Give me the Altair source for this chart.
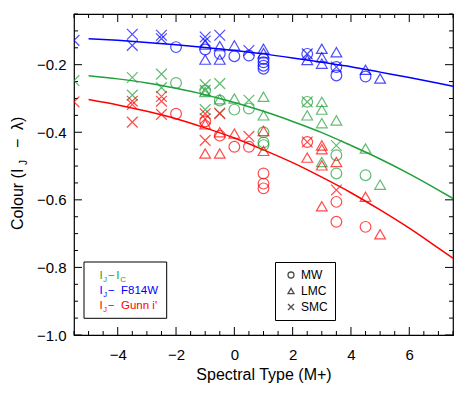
import altair as alt
import pandas as pd
import numpy as np

FONT = "Liberation Sans"
GREEN = "#21a03a"
BLUE = "#0000ff"
RED = "#ff0000"

# ---------------- data ----------------
# I_J - F814W (blue)
f814_spt = [-5.5, -3.5, -3.5, -2.5, -2.5, -2.0,
            -1.0, -1.0, -1.0, -1.0, -1.0,
            -0.5, -0.5, -0.5, -0.5, 0.0, 0.0, 0.5, 0.5,
            1.0, 1.0, 1.0, 1.0, 1.0, 1.0,
            2.5, 2.5, 2.5, 3.0, 3.0, 3.0,
            3.5, 3.5, 3.5, 3.5, 4.5, 4.5, 5.0]
f814_col = [-0.128, -0.110, -0.143, -0.113, -0.123, -0.148,
            -0.118, -0.130, -0.140, -0.155, -0.185,
            -0.113, -0.145, -0.168, -0.185, -0.143, -0.175, -0.158, -0.173,
            -0.153, -0.166, -0.183, -0.193, -0.203, -0.212,
            -0.168, -0.168, -0.186, -0.153, -0.178, -0.197,
            -0.163, -0.207, -0.207, -0.232, -0.215, -0.235, -0.241]
f814_gal = ["SMC", "SMC", "SMC", "SMC", "SMC", "MW",
            "SMC", "SMC", "LMC", "MW", "LMC",
            "SMC", "LMC", "MW", "LMC", "LMC", "MW", "SMC", "MW",
            "LMC", "LMC", "MW", "MW", "MW", "MW",
            "MW", "SMC", "LMC", "LMC", "LMC", "LMC",
            "LMC", "MW", "SMC", "MW", "LMC", "MW", "LMC"]

# I_J - I_C (green)
ic_spt = [-5.5, -3.5, -3.5, -2.5, -2.5, -2.0,
          -1.0, -1.0, -1.0, -1.0, -1.0,
          -0.5, -0.5, -0.5, -0.5, 0.0, 0.0, 0.5, 0.5,
          1.0, 1.0, 1.0, 1.0, 1.0,
          2.5, 2.5, 2.5, 3.0, 3.0, 3.0, 3.0,
          3.5, 3.5, 3.5, 3.5, 4.5, 4.5, 5.0]
ic_col = [-0.247, -0.238, -0.290, -0.228, -0.268, -0.254,
          -0.259, -0.276, -0.276, -0.281, -0.333,
          -0.256, -0.302, -0.306, -0.343, -0.300, -0.333, -0.305, -0.330,
          -0.295, -0.350, -0.400, -0.430, -0.438,
          -0.310, -0.310, -0.350, -0.310, -0.333, -0.373, -0.488,
          -0.365, -0.439, -0.468, -0.522, -0.448, -0.527, -0.555]
ic_gal = ["SMC", "SMC", "SMC", "SMC", "SMC", "MW",
          "SMC", "SMC", "MW", "LMC", "SMC",
          "SMC", "LMC", "MW", "SMC", "LMC", "MW", "SMC", "MW",
          "LMC", "LMC", "MW", "MW", "MW",
          "MW", "SMC", "LMC", "LMC", "LMC", "LMC", "LMC",
          "LMC", "SMC", "MW", "MW", "LMC", "MW", "LMC"]

# I_J - Gunn i' (red)
gunn_spt = [-5.5, -3.5, -3.5, -3.5, -2.5, -2.5, -2.5, -2.0,
            -1.0, -1.0, -1.0, -1.0, -1.0, -1.0,
            -0.5, -0.5, -0.5, -0.5, 0.0, 0.0, 0.5, 0.5,
            1.0, 1.0, 1.0, 1.0, 1.0,
            2.5, 2.5, 2.5, 3.0, 3.0, 3.0, 3.0,
            3.5, 3.5, 3.5, 3.5, 4.5, 4.5, 5.0]
gunn_col = [-0.310, -0.308, -0.318, -0.370, -0.294, -0.308, -0.347, -0.345,
            -0.345, -0.360, -0.368, -0.376, -0.424, -0.463,
            -0.345, -0.400, -0.410, -0.463, -0.404, -0.443, -0.412, -0.443,
            -0.396, -0.455, -0.522, -0.552, -0.566,
            -0.429, -0.429, -0.475, -0.439, -0.450, -0.498, -0.619,
            -0.488, -0.571, -0.606, -0.665, -0.591, -0.680, -0.702]
gunn_gal = ["SMC", "SMC", "SMC", "SMC", "SMC", "SMC", "SMC", "MW",
            "SMC", "SMC", "MW", "LMC", "SMC", "LMC",
            "SMC", "LMC", "MW", "LMC", "LMC", "MW", "SMC", "MW",
            "LMC", "LMC", "MW", "MW", "MW",
            "MW", "SMC", "LMC", "LMC", "LMC", "LMC", "LMC",
            "LMC", "SMC", "MW", "MW", "LMC", "MW", "LMC"]

# fitted relations
fit_spt = [-5, -4, -3, -2, -1, 0, 1, 2, 3, 4, 5, 6, 7, 7.5]
fit_f814 = [-0.123, -0.128, -0.134, -0.141, -0.149, -0.158, -0.168,
            -0.180, -0.193, -0.206, -0.222, -0.238, -0.255, -0.264]
fit_ic = [-0.233, -0.242, -0.254, -0.270, -0.289, -0.312, -0.338,
          -0.368, -0.401, -0.439, -0.479, -0.523, -0.571, -0.596]
fit_gunn = [-0.303, -0.319, -0.338, -0.360, -0.387, -0.417, -0.452,
            -0.490, -0.533, -0.579, -0.630, -0.684, -0.743, -0.773]

series = ["Ic", "F814W", "Gunn"]
galaxies = ["MW", "LMC", "SMC"]
x_major = [-4, -2, 0, 2, 4, 6]
y_major = [-1.0, -0.8, -0.6, -0.4, -0.2]
x_minor = [v for v in np.arange(-5.5, 7.51, 0.5).tolist() if v not in x_major]
y_minor = [round(v, 2) for v in np.arange(-1.0, -0.049, 0.05).tolist()
           if round(v, 2) not in y_major]

# ---------------- tables ----------------
pts = pd.concat([
    pd.DataFrame({"spt": ic_spt, "col": ic_col, "gal": ic_gal, "band": "Ic"}),
    pd.DataFrame({"spt": f814_spt, "col": f814_col, "gal": f814_gal, "band": "F814W"}),
    pd.DataFrame({"spt": gunn_spt, "col": gunn_col, "gal": gunn_gal, "band": "Gunn"}),
], ignore_index=True)
fits = pd.concat([
    pd.DataFrame({"spt": fit_spt, "col": fit_ic, "band": "Ic"}),
    pd.DataFrame({"spt": fit_spt, "col": fit_f814, "band": "F814W"}),
    pd.DataFrame({"spt": fit_spt, "col": fit_gunn, "band": "Gunn"}),
], ignore_index=True)

W, H = 379, 321
xs = alt.Scale(domain=[-5.5, 7.5], nice=False, zero=False)
ys = alt.Scale(domain=[-1.0, -0.05], nice=False, zero=False)
cs = alt.Scale(domain=series, range=[GREEN, BLUE, RED])
ss = alt.Scale(domain=galaxies,
               range=["circle", "triangle-up", "M-1,-1L1,1M-1,1L1,-1"])

x_axis = alt.Axis(values=x_major, format="d", ticks=False, domain=False,
                  grid=False, labelFontSize=15, labelFont=FONT,
                  labelColor="black", labelPadding=12, labelFlush=False,
                  title="Spectral Type (M+)", titleFontSize=16,
                  titleFont=FONT, titleFontWeight="normal",
                  titleColor="black", titlePadding=4)
y_axis = alt.Axis(values=y_major, format=".1f", ticks=False, domain=False,
                  grid=False, labelFontSize=15, labelFont=FONT,
                  labelColor="black", labelPadding=8, labelFlush=False,
                  title=None)

one = pd.DataFrame({"a": [0]})


def xticks(vals, y0, y1):
    return alt.Chart(pd.DataFrame({"spt": vals})).mark_rule(
        color="black", strokeWidth=1).encode(
        x=alt.X("spt:Q", scale=xs, axis=x_axis),
        y=alt.value(y0), y2=alt.value(y1))


def yticks(vals, x0, x1):
    return alt.Chart(pd.DataFrame({"col": vals})).mark_rule(
        color="black", strokeWidth=1).encode(
        y=alt.Y("col:Q", scale=ys, axis=y_axis),
        x=alt.value(x0), x2=alt.value(x1))


def txt(s, x, y, size, color, angle=0):
    kw = dict(text=s, align="left", baseline="alphabetic", fontSize=size,
              font=FONT, color=color)
    if angle:
        kw["angle"] = angle
    return alt.Chart(one).mark_text(**kw).encode(
        x=alt.value(x), y=alt.value(y))


ticks = [
    xticks(x_major, H, H - 8), xticks(x_minor, H, H - 4),
    xticks(x_major, 0, 8), xticks(x_minor, 0, 4),
    yticks(y_major, 0, 8), yticks(y_minor, 0, 4),
    yticks(y_major, W, W - 8), yticks(y_minor, W, W - 4),
]

lines = alt.Chart(fits).mark_line(strokeWidth=1.5, interpolate="monotone").encode(
    x=alt.X("spt:Q", scale=xs, axis=x_axis),
    y=alt.Y("col:Q", scale=ys, axis=y_axis),
    color=alt.Color("band:N", scale=cs, legend=None),
    detail="band:N",
)

points = alt.Chart(pts).mark_point(filled=False, size=115, strokeWidth=1.2,
                                   clip=True).encode(
    x=alt.X("spt:Q", scale=xs, axis=x_axis),
    y=alt.Y("col:Q", scale=ys, axis=y_axis),
    color=alt.Color("band:N", scale=cs, legend=None),
    shape=alt.Shape("gal:N", scale=ss,
                    legend=alt.Legend(title=None, orient="none", legendX=201,
                                      legendY=248, strokeColor="black",
                                      fillColor="white", padding=7,
                                      symbolSize=36, symbolStrokeColor="black",
                                      symbolFillColor="transparent",
                                      symbolStrokeWidth=1.3, labelFontSize=12,
                                      labelFont=FONT, labelColor="black",
                                      rowPadding=4, labelOffset=4,
                                      symbolOffset=3)),
)

# left colour key (drawn as text so the subscripts can be kept)
box = alt.Chart(one).mark_rect(fill="white", stroke="black", strokeWidth=1).encode(
    x=alt.value(10), x2=alt.value(92.7), y=alt.value(248), y2=alt.value(304.3))

key = []
rows = [(264.5, GREEN, "I", "C"), (279.5, BLUE, "F814W", None),
        (295.0, RED, "Gunn i'", None)]
for yb, c, word, sub in rows:
    key.append(txt("I", 25.5, yb, 11.5, c))
    key.append(txt("J", 29.3, yb + 3, 7.5, c))
    key.append(txt("\u2212", 34, yb, 11.5, c))
    if sub:
        key.append(txt(word, 42.3, yb, 11.5, c))
        key.append(txt(sub, 46.3, yb + 3, 8, c))
    else:
        key.append(txt(word, 47, yb, 11.5, c))

# y-axis title with subscript
ytitle = [
    txt("Colour (I", -51, 216, 16, "black", 270),
    txt("J", -47, 151, 10, "black", 270),
    txt("\u2212", -51, 134, 16, "black", 270),
    txt("\u03bb)", -51, 116, 16, "black", 270),
]

chart = alt.layer(*ticks, lines, points, box, *key, *ytitle).properties(
    width=W, height=H,
    autosize=alt.AutoSizeParams(type="none"),
    padding={"left": 66, "top": 6, "right": 1, "bottom": 48},
).configure_view(stroke="black", strokeWidth=1.2)

chart.save("out.html", embed_options={"renderer": "svg", "actions": False})
